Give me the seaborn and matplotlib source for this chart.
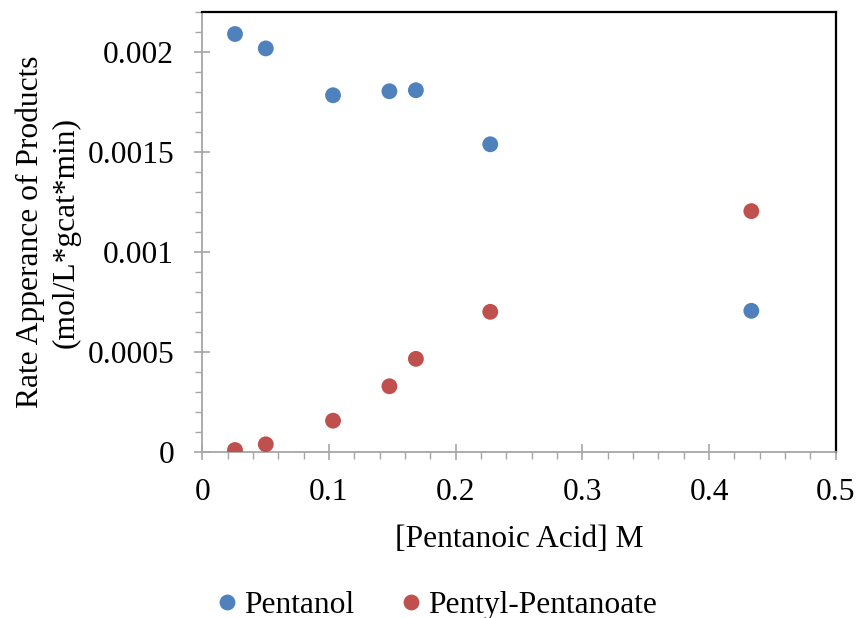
import matplotlib
matplotlib.use("Agg")
import matplotlib.pyplot as plt
from matplotlib.ticker import MultipleLocator, FuncFormatter
import seaborn as sns
import pandas as pd

# Pentanoic acid concentration (M)
acid_conc = [0.0258, 0.0501, 0.1032, 0.1477, 0.1686, 0.2273, 0.4334]
# Rate of appearance (mol/L*gcat*min)
pentanol_rate = [0.002090, 0.002018, 0.001784, 0.001804, 0.001809, 0.001539, 0.000707]
ester_rate = [0.0000115, 0.000040, 0.000158, 0.000330, 0.000467, 0.000702, 0.001205]
series_names = ["Pentanol", "Pentyl-Pentanoate"]
series_colors = ["#4F81BD", "#C0504D"]

df = pd.concat([
    pd.DataFrame({"conc": acid_conc, "rate": pentanol_rate, "product": series_names[0]}),
    pd.DataFrame({"conc": acid_conc, "rate": ester_rate, "product": series_names[1]}),
])

sns.set_theme(style="white")
plt.rcParams["font.family"] = ["Liberation Serif", "DejaVu Serif"]
plt.rcParams["text.color"] = "black"
plt.rcParams["axes.labelcolor"] = "black"

FS = 22.7

fig = plt.figure(figsize=(8.58, 6.18), dpi=100)
ax = fig.add_axes([0.2358, 0.2681, 0.7382, 0.7125])

sns.scatterplot(data=df, x="conc", y="rate", hue="product",
                palette=dict(zip(series_names, series_colors)),
                s=130, edgecolor="none", ax=ax, legend=True, zorder=3)

ax.set_xlim(0, 0.5)
ax.set_ylim(0, 0.0022)
ax.xaxis.set_major_locator(MultipleLocator(0.1))
ax.xaxis.set_minor_locator(MultipleLocator(0.02))
ax.yaxis.set_major_locator(MultipleLocator(0.0005))
ax.yaxis.set_minor_locator(MultipleLocator(0.0001))
fmt = FuncFormatter(lambda v, p: f"{round(v, 6):g}")
ax.xaxis.set_major_formatter(fmt)
ax.yaxis.set_major_formatter(fmt)

grey = "#A6A6A6"
for side in ["left", "bottom"]:
    ax.spines[side].set_color(grey)
    ax.spines[side].set_linewidth(1.3)
for side in ["top", "right"]:
    ax.spines[side].set_color("black")
    ax.spines[side].set_linewidth(1.6)

ax.tick_params(which="major", direction="inout", length=11.5, width=1.2,
               color=grey, labelsize=FS, labelcolor="black")
ax.tick_params(which="minor", direction="out", length=5, width=1.0, color=grey)
ax.tick_params(axis="y", which="major", pad=14.5)
ax.tick_params(axis="x", which="major", pad=13)
ax.tick_params(which="both", bottom=True, left=True, top=False, right=False)

ax.set_xlabel("[Pentanoic Acid] M", fontsize=FS, labelpad=13, color="black")
ax.set_ylabel("Rate Apperance of Products\n(mol/L*gcat*min)", fontsize=FS,
              labelpad=5, linespacing=1.3, color="black")

handles, labels = ax.get_legend_handles_labels()
ax.get_legend().remove()
fig.legend(handles, labels, loc="center", bbox_to_anchor=(0.508, 0.021),
           ncol=2, frameon=False, fontsize=FS, handlelength=0.8,
           handletextpad=0.15, columnspacing=1.38, markerscale=1.0,
           labelcolor="black")

fig.savefig("out.png", dpi=100)
